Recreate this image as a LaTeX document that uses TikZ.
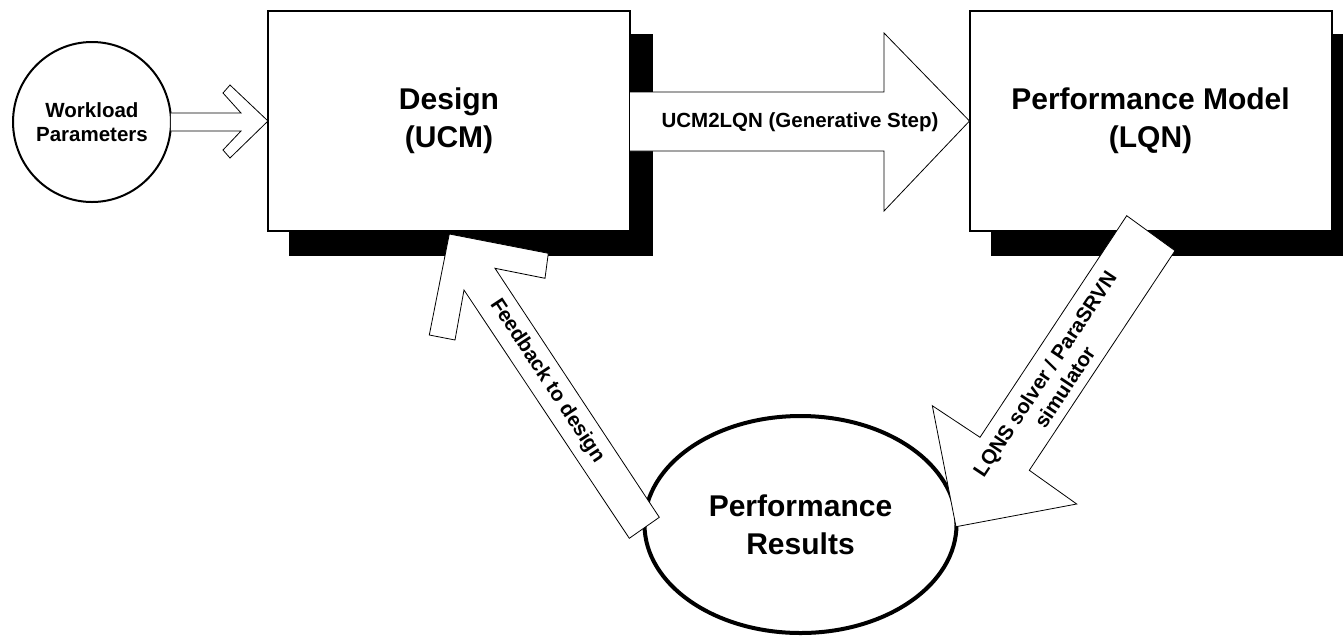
\documentclass[tikz,border=0pt]{standalone}
\usepackage{fontspec}
\setmainfont{Liberation Sans}
\usetikzlibrary{shapes.geometric,backgrounds}
\newcommand\dgmbig{\fontsize{30}{38}\selectfont\bfseries}
\newcommand\dgmsmall{\fontsize{20.5}{24.5}\selectfont\bfseries}
\begin{document}
\begin{tikzpicture}[x=1pt,y=-1pt,
  box/.style={draw, line width=2pt, fill=white, inner sep=0pt, outer sep=0pt,
    minimum width=362pt, minimum height=220pt, align=center, font=\dgmbig},
  roundnode/.style={ellipse, draw, fill=white, inner sep=0pt, outer sep=0pt, align=center},
  boxshadow/.style={fill=black},
  blockarrow/.style={draw, fill=white, line width=0.8pt, line join=miter},
  smalltext/.style={font=\dgmsmall, inner sep=0pt, align=center}
]
\clip (0,0) rectangle (1343,638);

% main blocks
\node[box] (design) at (449,121) {Design\\(UCM)};
\node[box] (perf) at (1150.5,121) {Performance Model\\(LQN)};

% drop shadows behind the blocks
\begin{pgfonlayer}{background}
  \fill[boxshadow] ([shift={(21,23)}]design.north west) rectangle ([shift={(23,25)}]design.south east);
  \fill[boxshadow] ([shift={(21,23)}]perf.north west) rectangle ([shift={(23,25)}]perf.south east);
\end{pgfonlayer}

% input and result ellipses
\node[roundnode, line width=2pt, minimum width=155pt, minimum height=160pt, font=\dgmsmall]
  (wl) at (92,122) {Workload\\Parameters};
\node[roundnode, line width=4pt, minimum width=312pt, minimum height=217pt, font=\dgmbig]
  (res) at (800.5,524.5) {Performance\\Results};

% workload -> design
\draw[blockarrow] (wl.east |- 0,113) -- (241,113) -- (223,93) -- (230,85)
  -- (design.west) -- (230,158) -- (223,150) -- (241,131) -- (wl.east |- 0,131);

% design -> performance model
\draw[blockarrow] (design.east |- 0,92) -- (884,92) -- (884,33) -- (perf.west)
  -- (884,211) -- (884,151) -- (design.east |- 0,151);

% results -> design (feedback)
\draw[blockarrow] (449.3,234) -- (548.3,253.3) -- (545,278.3) -- (495,268.3)
  -- (659.3,517.3) -- (629.3,538.3) -- (464,290) -- (455,340) -- (429.3,335) -- cycle;

% performance model -> results (solver)
\draw[blockarrow] (1126.7,215.7) -- (1175,250.7) -- (1029.3,470.3) -- (1076.7,504)
  -- (956,526.7) -- (932.3,405.7) -- (980,437.3) -- cycle;

% arrow labels
\node[smalltext] (ucml) at (800,122) {UCM2LQN (Generative Step)};
\node[smalltext, rotate=-56.6] (fbl) at (547,381) {Feedback to design};
\node[smalltext, rotate=56.4, font=\fontsize{20.5}{24}\selectfont\bfseries]
  (lqnsl) at (1054.6,380.4) {LQNS solver / ParaSRVN\\simulator};
\end{tikzpicture}
\end{document}
